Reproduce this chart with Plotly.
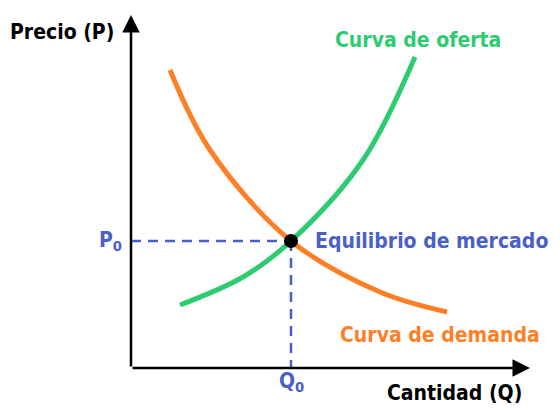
import plotly.graph_objects as go

# Data (arbitrary units: Q horizontal, P vertical)
supply_q = [49, 112, 160, 232, 284]
supply_p = [63, 91, 127, 208, 311]
demand_q = [39, 79, 160, 249, 316]
demand_p = [298, 218, 127, 76, 56]
eq_q = 160
eq_p = 127
x_axis_end = 399
y_axis_end = 353

GREEN = "#2ecc71"
ORANGE = "#ff7f27"
BLUE = "#4a5fc7"
FONT = "DejaVu Sans Condensed"

fig = go.Figure()

# dashed guides
fig.add_trace(go.Scatter(x=[0, eq_q], y=[eq_p, eq_p], mode="lines",
                         line=dict(color=BLUE, width=2.5, dash="10px,7px"), hoverinfo="skip"))
fig.add_trace(go.Scatter(x=[eq_q, eq_q], y=[eq_p, 0], mode="lines",
                         line=dict(color=BLUE, width=2.5, dash="10px,7px"), hoverinfo="skip"))

fig.add_trace(go.Scatter(x=demand_q, y=demand_p, mode="lines",
                         line=dict(color=ORANGE, width=5, shape="spline", smoothing=1)))
fig.add_trace(go.Scatter(x=supply_q, y=supply_p, mode="lines",
                         line=dict(color=GREEN, width=5, shape="spline", smoothing=1)))
fig.add_trace(go.Scatter(x=[eq_q], y=[eq_p], mode="markers",
                         marker=dict(color="black", size=14)))

# axes with arrows
for (x0, y0, x1, y1) in [(0, 0, 0, y_axis_end), (0, 0, x_axis_end, 0)]:
    fig.add_annotation(x=x1, y=y1, ax=x0, ay=y0, xref="x", yref="y", axref="x", ayref="y",
                       showarrow=True, arrowhead=2, arrowsize=1.4, arrowwidth=2.5,
                       arrowcolor="black", text="")

def label(x, y, text, color, xanchor="center", size=21):
    fig.add_annotation(x=x, y=y, xref="x", yref="y", text=text, showarrow=False,
                       xanchor=xanchor, yanchor="middle",
                       font=dict(family=FONT, size=size, color=color, weight="bold"))

label(-69, 336, "Precio (P)", "black")
label(323, -25, "Cantidad (Q)", "black")
label(287, 328, "Curva de oferta", GREEN)
label(182, eq_p, "Equilibrio de mercado", BLUE, xanchor="left")
label(309, 33, "Curva de demanda", ORANGE)
label(-21, eq_p, "P<sub>0</sub>", BLUE)
label(eq_q, -14, "Q<sub>0</sub>", BLUE)

# page body has an 8px margin: shift ranges so marks land where the reference has them
fig.update_layout(
    width=560, height=412, margin=dict(l=0, r=0, t=0, b=0),
    paper_bgcolor="white", plot_bgcolor="white", showlegend=False,
    xaxis=dict(range=[-123, 437], visible=False, fixedrange=True),
    yaxis=dict(range=[-52, 360], visible=False, fixedrange=True),
)

fig.write_html("out.html")
